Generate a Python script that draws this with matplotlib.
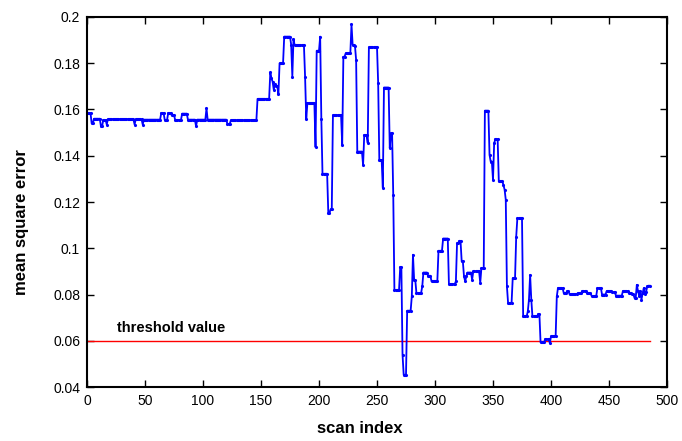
import numpy as np
import matplotlib
matplotlib.use("Agg")
import matplotlib.pyplot as plt

plt.rcParams['font.family'] = ['Liberation Sans', 'DejaVu Sans']

# run-length encoded mean square error per scan index: (value, run length)
mse_values = [
    0.1585, 0.1540, 0.1560, 0.1527, 0.1555, 0.1535, 0.1558, 0.1535, 0.1558, 0.1535,
    0.1556, 0.1585, 0.1555, 0.1585, 0.1575, 0.1555, 0.1582, 0.1556, 0.1527, 0.1556,
    0.1605, 0.1556, 0.1538, 0.1553,
    0.1646, 0.1760, 0.1735, 0.1720, 0.1685, 0.1710, 0.1700, 0.1667, 0.1800, 0.1915,
    0.1880, 0.1742, 0.1905, 0.1878, 0.1740, 0.1560, 0.1628, 0.1437, 0.1854, 0.1915,
    0.1560, 0.1322, 0.1153, 0.1168, 0.1575, 0.1447, 0.1828, 0.1843, 0.1968, 0.1879,
    0.1875, 0.1814, 0.1418, 0.1360, 0.1490, 0.1455, 0.1869, 0.1713, 0.1382, 0.1262,
    0.1695, 0.1433, 0.1497, 0.1230, 0.0820, 0.0919, 0.0540, 0.0453, 0.0730, 0.0792,
    0.0972, 0.0864, 0.0862, 0.0806, 0.0835, 0.0895, 0.0881, 0.0857, 0.0989, 0.1042,
    0.0845, 0.0857, 0.1022, 0.1032, 0.0943, 0.0878, 0.0857, 0.0878, 0.0895, 0.0864,
    0.0900, 0.0850, 0.0914,
    0.1595, 0.1404, 0.1375, 0.1296, 0.1454, 0.1472, 0.1289, 0.1274, 0.1253, 0.1210,
    0.0835, 0.0763, 0.0871, 0.1050, 0.1130, 0.0705, 0.0727, 0.0778, 0.0885, 0.0778,
    0.0705, 0.0715, 0.0593, 0.0607, 0.0590, 0.0619, 0.0792, 0.0828,
    0.0806, 0.0815, 0.0801, 0.0806, 0.0815, 0.0806, 0.0794, 0.0828, 0.0800, 0.0815,
    0.0810, 0.0795, 0.0815, 0.0806, 0.0802, 0.0785, 0.0842, 0.0815, 0.0795, 0.0815,
    0.0778, 0.0806, 0.0828, 0.0802, 0.0812, 0.0835, 0.0838,
]
mse_runs = [
    4, 2, 6, 2, 3, 1, 23, 1, 6, 1,
    15, 3, 3, 3, 3, 6, 5, 7, 1, 8,
    1, 17, 3, 23,
    11, 1, 1, 1, 1, 1, 2, 1, 4, 6,
    1, 1, 1, 9, 1, 1, 7, 1, 3, 1,
    1, 5, 2, 2, 8, 1, 2, 5, 1, 2,
    1, 1, 5, 1, 3, 1, 8, 1, 3, 1,
    5, 1, 2, 1, 5, 2, 1, 3, 4, 1,
    1, 1, 1, 5, 1, 4, 3, 6, 4, 5,
    6, 1, 2, 2, 2, 1, 1, 1, 4, 1,
    6, 1, 3,
    4, 1, 2, 1, 1, 3, 4, 1, 1, 1,
    1, 4, 3, 1, 5, 4, 1, 1, 1, 1,
    5, 2, 4, 4, 1, 5, 1, 5,
    3, 2, 7, 4, 4, 4, 5, 4, 4, 5,
    3, 6, 5, 3, 2, 2, 1, 1, 1, 1,
    1, 1, 1, 1, 1, 1, 2,
]
threshold = 0.06
x_ticks = [0, 50, 100, 150, 200, 250, 300, 350, 400, 450, 500]
y_ticks = [0.04, 0.06, 0.08, 0.1, 0.12, 0.14, 0.16, 0.18, 0.2]
y_tick_labels = ["0.04", "0.06", "0.08", "0.1", "0.12", "0.14", "0.16", "0.18", "0.2"]

mse = np.repeat(mse_values, mse_runs)
scan = np.arange(len(mse))

fig = plt.figure(figsize=(6.82, 4.41), dpi=100)
ax = fig.add_axes([0.1276, 0.1224, 0.8504, 0.8391])

ax.plot([scan[0], scan[-1]], [threshold, threshold], color='#ff0000', lw=1.0)
ax.plot(scan, mse, color='#0000ff', lw=1.3, marker='.', markersize=2.5)

ax.text(26, 0.0625, "threshold value", fontsize=10.5, fontweight='bold', ha='left', va='bottom')

ax.set_xlim(0, 500)
ax.set_ylim(0.04, 0.2)
ax.set_xticks(x_ticks)
ax.set_yticks(y_ticks)
ax.set_yticklabels(y_tick_labels)
ax.tick_params(direction='in', top=True, right=True, length=5, width=1, labelsize=10, pad=5)
for s in ax.spines.values():
    s.set_linewidth(1.5)

ax.set_xlabel("scan index", fontsize=12, fontweight='bold')
ax.set_ylabel("mean square error", fontsize=12, fontweight='bold')
ax.xaxis.set_label_coords(0.471, -0.092)
ax.yaxis.set_label_coords(-0.1, 0.446)

fig.savefig("out.png", dpi=100)
